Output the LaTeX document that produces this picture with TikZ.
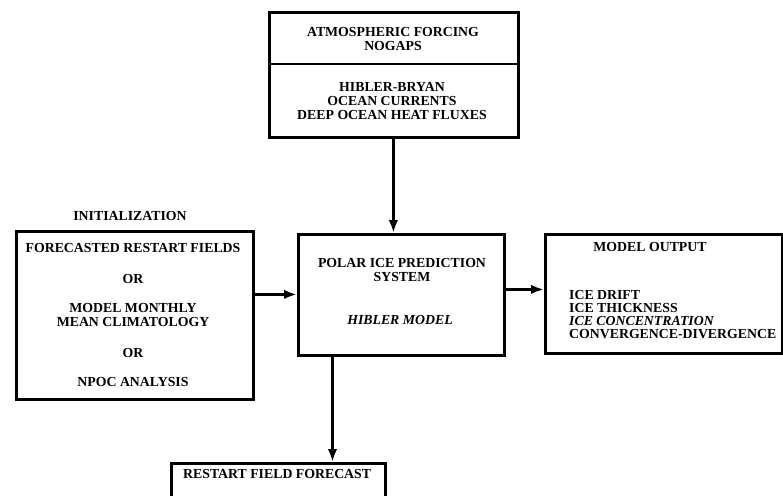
\documentclass[tikz,border=0pt]{standalone}
\usepackage{fontspec}
\setmainfont{Liberation Serif}
\usetikzlibrary{arrows.meta,calc}
\begin{document}
\begin{tikzpicture}[x=1pt,y=-1pt,
  box/.style={draw,line width=2.8pt,rectangle,inner sep=0pt,anchor=north west},
  lbl/.style={inner sep=0pt,font=\fontsize{13.8}{14}\selectfont\bfseries,align=center},
  lbll/.style={lbl,align=left,anchor=west},
  arr/.style={line width=3pt,-{Latex[length=13pt,width=9.5pt]}}]
\clip (0,0) rectangle (783,495);
\fill[white] (0,0) rectangle (783,495);

% forcing box (two compartments)
\node[box,minimum width=249pt,minimum height=125pt] (forcing) at (268,11) {};
\draw[line width=2.5pt] (268,64) -- (517,64);
\node[lbl] (atm) at (393,39) {ATMOSPHERIC FORCING\\NOGAPS};
\node[lbl] (ocean) at (392,101) {HIBLER-BRYAN\\OCEAN CURRENTS\\DEEP OCEAN HEAT FLUXES};

% initialization box
\node[lbl] (inittitle) at (130,216) {INITIALIZATION};
\node[box,minimum width=237pt,minimum height=168pt] (init) at (15,230) {};
\node[lbl] (i1) at (133,248) {FORECASTED RESTART FIELDS};
\node[lbl] (i2) at (133,279) {OR};
\node[lbl] (i3) at (133,315) {MODEL MONTHLY\\MEAN CLIMATOLOGY};
\node[lbl] (i4) at (133,353) {OR};
\node[lbl] (i5) at (133,382) {NPOC ANALYSIS};

% prediction system box
\node[box,minimum width=206pt,minimum height=121pt] (model) at (297,233) {};
\node[lbl] (m1) at (402,270) {POLAR ICE PREDICTION\\SYSTEM};
\node[lbl,font=\fontsize{13.8}{14}\selectfont\bfseries\itshape] (m2) at (400,320) {HIBLER MODEL};

% output box
\node[box,minimum width=237pt,minimum height=119pt] (output) at (544,233) {};
\node[lbl] (o0) at (650,247) {MODEL OUTPUT};
\node[lbll] (o1) at (569,295) {ICE DRIFT};
\node[lbll] (o2) at (569,308) {ICE THICKNESS};
\node[lbll,font=\fontsize{13.8}{14}\selectfont\bfseries\itshape] (o3) at (569,321) {ICE CONCENTRATION};
\node[lbll] (o4) at (569,334) {CONVERGENCE-DIVERGENCE};

% restart forecast box
\node[box,minimum width=214pt,minimum height=60pt] (restart) at (170,462) {};
\node[lbll] (r1) at (183,474) {RESTART FIELD FORECAST};

% connectors
\coordinate (fdown) at ([xshift=-0.5pt]forcing.south);
\draw[arr] (fdown) -- (fdown |- model.north);
\coordinate (mleft) at ([yshift=0.5pt]model.west);
\draw[arr] (mleft -| init.east) -- (mleft);
\coordinate (mright) at ([yshift=5.5pt]model.east);
\draw[arr] (mright) -- (mright -| output.west);
\coordinate (mdown) at ($(model.south west)!0.17!(model.south east)$);
\draw[arr] (mdown) -- (mdown |- restart.north);
\end{tikzpicture}
\end{document}
